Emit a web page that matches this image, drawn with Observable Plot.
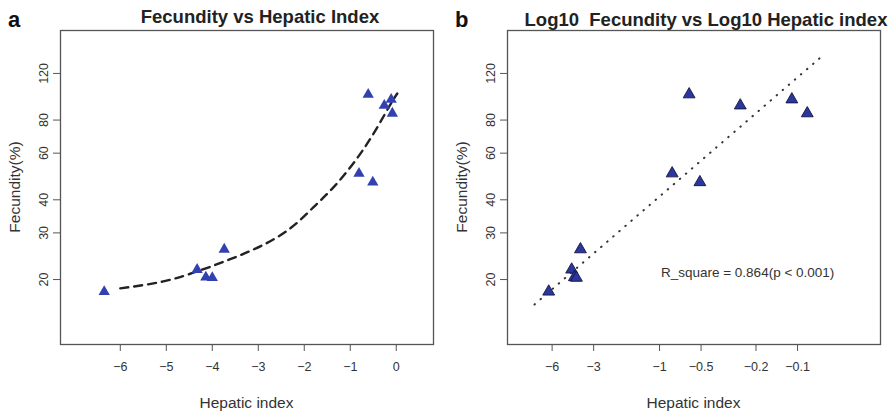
<!DOCTYPE html>
<html><head><meta charset="utf-8">
<script src="https://cdn.jsdelivr.net/npm/d3@7"></script>
<script src="https://cdn.jsdelivr.net/npm/@observablehq/plot@0.6"></script>
<style>
body{margin:0;background:#fff;}
#wrap{position:relative;width:894px;height:415px;font-family:"Liberation Sans",Arial,sans-serif;}
#wrap svg{position:absolute;top:0;}
</style></head><body><div id="wrap"></div>
<script>
// Data
const hepatic   = [-6.35, -4.33, -4.14, -4.0, -3.74, -0.81, -0.61, -0.51, -0.26, -0.11, -0.085];
const fecundity = [18.0, 21.8, 20.4, 20.3, 26.0, 50.3, 100, 46.6, 90.8, 95.7, 84.8];
// dashed fitted curve (panel a)
const curveX = [-6.0, -5.065, -4.261, -3.565, -2.913, -2.304, -1.804, -1.326, -0.870, -0.478, -0.152, 0.022];
const curveY = [18.52, 19.68, 21.66, 24.04, 26.91, 31.20, 37.43, 45.34, 56.82, 71.85, 90.06, 100.8];
// dotted regression line endpoints (panel b)
const fitX = [-8.05, -0.068];
const fitY = [16.1, 138];
const xTicksA = [-6, -5, -4, -3, -2, -1, 0];
const xTicksB = [-6, -3, -1, -0.5, -0.2, -0.1];
const yTicks = [20, 30, 40, 60, 80, 120];
const annText = "R_square = 0.864(p < 0.001)";
const annX = [-0.23];
const annY = [21.3];

const pts = hepatic.map((h, i) => ({h, f: fecundity[i]}));
const curve = curveX.map((x, i) => ({x, y: curveY[i]}));
const fit = fitX.map((x, i) => ({x, y: fitY[i]}));
const ann = annX.map((x, i) => ({x, y: annY[i], t: annText}));

// panel b: log10 of the magnitude of the (negative) hepatic index
const lg = v => Math.log10(-v);

const font = '"Liberation Sans", Arial, sans-serif';
const common = {
  width: 447, height: 415,
  marginLeft: 60, marginRight: 14, marginTop: 30, marginBottom: 71,
  style: {fontFamily: font, fontSize: "12.5px", color: "#333", background: "transparent", overflow: "visible"}
};
const yOpt = {type: "log", domain: [11.37, 174.3], axis: null};
const minus = d => d === 0 ? "0" : "\u2212" + Math.abs(d);

const plotA = Plot.plot({
  ...common,
  x: {domain: [-7.30, 0.81], axis: null},
  y: yOpt,
  marks: [
    Plot.frame({stroke: "#555", strokeWidth: 1.3}),
    Plot.axisX({ticks: xTicksA, tickSize: 7, tickPadding: 11, tickFormat: minus, label: null, fontSize: 12.5, stroke: "#555"}),
    Plot.axisY({ticks: yTicks, tickSize: 7, tickPadding: 6, tickRotate: -90, tickFormat: d => String(d), label: null, fontSize: 12.5, stroke: "#555"}),
    Plot.line(curve, {x: "x", y: "y", curve: "natural", stroke: "#222", strokeWidth: 2.4, strokeDasharray: "8,6"}),
    Plot.dot(pts, {x: "h", y: "f", symbol: "triangle", r: 4.2, fill: "#3341b0", stroke: "none"})
  ]
});

const plotB = Plot.plot({
  ...common,
  x: {domain: [-1.601, 1.1014], reverse: true, axis: null},
  y: yOpt,
  marks: [
    Plot.frame({stroke: "#555", strokeWidth: 1.3}),
    Plot.axisX({ticks: xTicksB.map(lg), tickSize: 7, tickPadding: 11,
      tickFormat: d => "\u2212" + (+Math.pow(10, d).toPrecision(3)), label: null, fontSize: 12.5, stroke: "#555"}),
    Plot.axisY({ticks: yTicks, tickSize: 7, tickPadding: 6, tickRotate: -90, tickFormat: d => String(d), label: null, fontSize: 12.5, stroke: "#555"}),
    Plot.line(fit, {x: d => lg(d.x), y: "y", stroke: "#333", strokeWidth: 2, strokeLinecap: "round", strokeDasharray: "0.5,7.5"}),
    Plot.dot(pts, {x: d => lg(d.h), y: "f", symbol: "triangle", r: 4.4, fill: "#2b379e", stroke: "#15153f", strokeWidth: 0.9}),
    Plot.text(ann, {x: d => lg(d.x), y: "y", text: "t", fontSize: 13.5, fill: "#333"})
  ]
});

const wrap = document.getElementById("wrap");
plotA.style.left = "0px";
plotB.style.left = "447px";
wrap.appendChild(plotA);
wrap.appendChild(plotB);

// overlay for titles and axis labels
const ov = d3.select(wrap).append("svg")
  .attr("width", 894).attr("height", 415)
  .style("left", "0px").style("pointer-events", "none")
  .style("font-family", font);
const labels = [
  {t: "a", x: 8, y: 27, size: 22, w: "bold", a: "start", c: "#111"},
  {t: "b", x: 455, y: 27, size: 22, w: "bold", a: "start", c: "#111"},
  {t: "Fecundity vs Hepatic Index", x: 260, y: 23, size: 18.5, w: "bold", a: "middle", c: "#222"},
  {t: "Log10  Fecundity vs Log10 Hepatic index", x: 706, y: 25.5, size: 18.5, w: "bold", a: "middle", c: "#222"},
  {t: "Hepatic index", x: 246.5, y: 408, size: 15.5, w: "normal", a: "middle", c: "#333"},
  {t: "Hepatic index", x: 693.5, y: 408, size: 15.5, w: "normal", a: "middle", c: "#333"}
];
ov.selectAll("text.l").data(labels).join("text")
  .attr("x", d => d.x).attr("y", d => d.y)
  .attr("font-size", d => d.size).attr("font-weight", d => d.w)
  .attr("text-anchor", d => d.a).attr("fill", d => d.c)
  .style("white-space", "pre")
  .attr("xml:space", "preserve")
  .text(d => d.t);
[20, 467].forEach(x => {
  ov.append("text").attr("transform", `translate(${x},187) rotate(-90)`)
    .attr("text-anchor", "middle").attr("font-size", 15.5).attr("fill", "#333")
    .text("Fecundity(%)");
});
</script></body></html>
